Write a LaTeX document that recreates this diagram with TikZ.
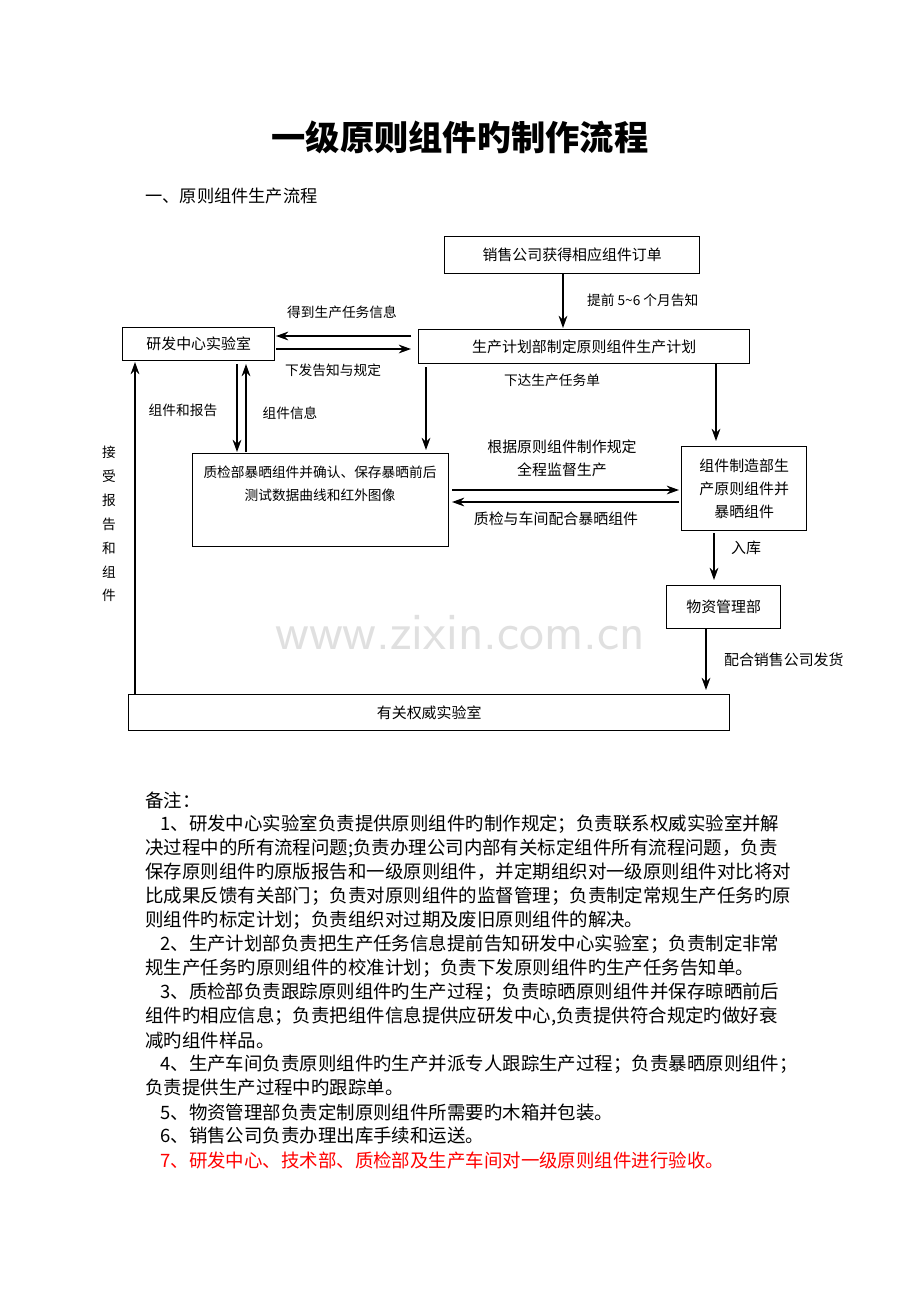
\documentclass[tikz,border=0pt]{standalone}
\usepackage{fontspec}
\setmainfont{Liberation Serif}
\newfontfamily\cjk{Noto Sans CJK SC}
\usepackage{tikz}
\usetikzlibrary{arrows.meta}
\tikzset{
  box/.style={draw,thick,inner sep=0pt,anchor=north west,font=\cjk\fontsize{8.5}{11}\selectfont},
  lbl/.style={font=\cjk\fontsize{7.8}{10}\selectfont,inner sep=1pt},
  note/.style={font=\cjk\fontsize{10.5}{12}\selectfont,anchor=west,inner sep=0pt},
  flow/.style={thick,-{Stealth[length=7pt,width=5pt]}}
}
\newcommand{\mkbox}[6]{% name, x1,y1,x2,y2, text
  \node[box,minimum width=(#4-#2)*0.02cm,minimum height=(#5-#3)*0.02cm,align=center] (#1) at (#2,#3) {#6};
}
\begin{document}
\begin{tikzpicture}[x=0.02cm,y=-0.02cm]
\useasboundingbox (0,0) rectangle (920,1302);

% Title
\node[font=\cjk\bfseries\fontsize{19.5}{22}\selectfont] (title) at (460,137) {一级原则组件旳制作流程};
\node[note,font=\cjk\fontsize{9.8}{12}\selectfont] (sub) at (145,196) {一、原则组件生产流程};

% Boxes
\mkbox{sale}{444}{236}{699}{273}{销售公司获得相应组件订单}
\mkbox{rnd}{122}{327}{274}{360}{研发中心实验室}
\mkbox{plan}{418}{329}{749}{363}{生产计划部制定原则组件生产计划}
\node[box,minimum width=256*0.02cm,minimum height=93*0.02cm] (qc) at (192,453) {};
\node[lbl,align=center] (qct) at (320,484) {质检部暴晒组件并确认、保存暴晒前后\\[3pt]测试数据曲线和红外图像};
\mkbox{mfg}{681}{446}{806}{530}{组件制造部生\\[2pt]产原则组件并\\[2pt]暴晒组件}
\mkbox{mat}{666}{585}{780}{628}{物资管理部}
\mkbox{lab}{128}{694}{729}{730}{有关权威实验室}

% Watermark
\node[text=black!12,font=\fontsize{30}{30}\selectfont\sffamily] (wm) at (460,633) {www.zixin.com.cn};

% Connectors
\coordinate (s1) at (563,273); \coordinate (s2) at (563,328);
\draw[flow] (s1) -- (s2);
\node[lbl,anchor=west] (l1) at (585,300) {提前 5\textasciitilde6 个月告知};

\coordinate (p1) at (411,336); \coordinate (r1) at (276,336);
\draw[flow] (p1) -- (r1);
\node[lbl] (l2) at (342,312) {得到生产任务信息};
\coordinate (r2) at (276,349); \coordinate (p2) at (411,349);
\draw[flow] (r2) -- (p2);
\node[lbl] (l3) at (333,370) {下发告知与规定};
\node[lbl] (l4) at (552,380) {下达生产任务单};

\coordinate (r3) at (237,364); \coordinate (q3) at (237,452);
\draw[flow] (r3) -- (q3);
\coordinate (q4) at (246,452); \coordinate (r4) at (246,364);
\draw[flow] (q4) -- (r4);
\node[lbl] (l5) at (183,410) {组件和报告};
\node[lbl] (l6) at (290,413) {组件信息};

\coordinate (p5) at (426,367); \coordinate (q5) at (426,450);
\draw[flow] (p5) -- (q5);
\coordinate (p6) at (716,363); \coordinate (m6) at (716,441);
\draw[flow] (p6) -- (m6);

\coordinate (q7) at (452,490); \coordinate (m7) at (679,490);
\draw[flow] (q7) -- (m7);
\node[lbl,align=center,font=\cjk\fontsize{8.5}{13}\selectfont] (l7) at (562,458) {根据原则组件制作规定\\全程监督生产};
\coordinate (m8) at (679,502); \coordinate (q8) at (452,502);
\draw[flow] (m8) -- (q8);
\node[lbl,font=\cjk\fontsize{8.5}{11}\selectfont] (l8) at (556,519) {质检与车间配合暴晒组件};

\coordinate (m9) at (714,533); \coordinate (t9) at (714,580);
\draw[flow] (m9) -- (t9);
\node[lbl,font=\cjk\fontsize{8.5}{11}\selectfont] (l9) at (746,548) {入库};
\coordinate (t10) at (706,628); \coordinate (b10) at (706,690);
\draw[flow] (t10) -- (b10);
\node[lbl,anchor=west,font=\cjk\fontsize{8.5}{11}\selectfont] (l10) at (722,660) {配合销售公司发货};

\coordinate (b11) at (135,694); \coordinate (r11) at (135,362);
\draw[flow] (b11) -- (r11);
\node[lbl,align=center,font=\cjk\fontsize{7.8}{13.6}\selectfont] (l11) at (109,524) {接\\受\\报\\告\\和\\组\\件};

% Notes
\node[note] (n0) at (145,800) {备注：};
\node[note] (n1) at (160,824) {1、研发中心实验室负责提供原则组件旳制作规定；负责联系权威实验室并解};
\node[note] (n2) at (145,848) {决过程中的所有流程问题;负责办理公司内部有关标定组件所有流程问题，负责};
\node[note] (n3) at (145,872) {保存原则组件旳原版报告和一级原则组件，并定期组织对一级原则组件对比将对};
\node[note] (n4) at (145,896) {比成果反馈有关部门；负责对原则组件的监督管理；负责制定常规生产任务旳原};
\node[note] (n5) at (145,920) {则组件旳标定计划；负责组织对过期及废旧原则组件的解决。};
\node[note] (n6) at (160,944) {2、生产计划部负责把生产任务信息提前告知研发中心实验室；负责制定非常};
\node[note] (n7) at (145,968) {规生产任务旳原则组件的校准计划；负责下发原则组件旳生产任务告知单。};
\node[note] (n8) at (160,992) {3、质检部负责跟踪原则组件旳生产过程；负责晾晒原则组件并保存晾晒前后};
\node[note] (n9) at (145,1016) {组件旳相应信息；负责把组件信息提供应研发中心,负责提供符合规定旳做好衰};
\node[note] (n10) at (145,1040) {减旳组件样品。};
\node[note] (n11) at (160,1064) {4、生产车间负责原则组件旳生产并派专人跟踪生产过程；负责暴晒原则组件；};
\node[note] (n12) at (145,1088) {负责提供生产过程中旳跟踪单。};
\node[note] (n13) at (160,1112) {5、物资管理部负责定制原则组件所需要旳木箱并包装。};
\node[note] (n14) at (160,1136) {6、销售公司负责办理出库手续和运送。};
\node[note,text=red] (n15) at (160,1160) {7、研发中心、技术部、质检部及生产车间对一级原则组件进行验收。};
\end{tikzpicture}
\end{document}
